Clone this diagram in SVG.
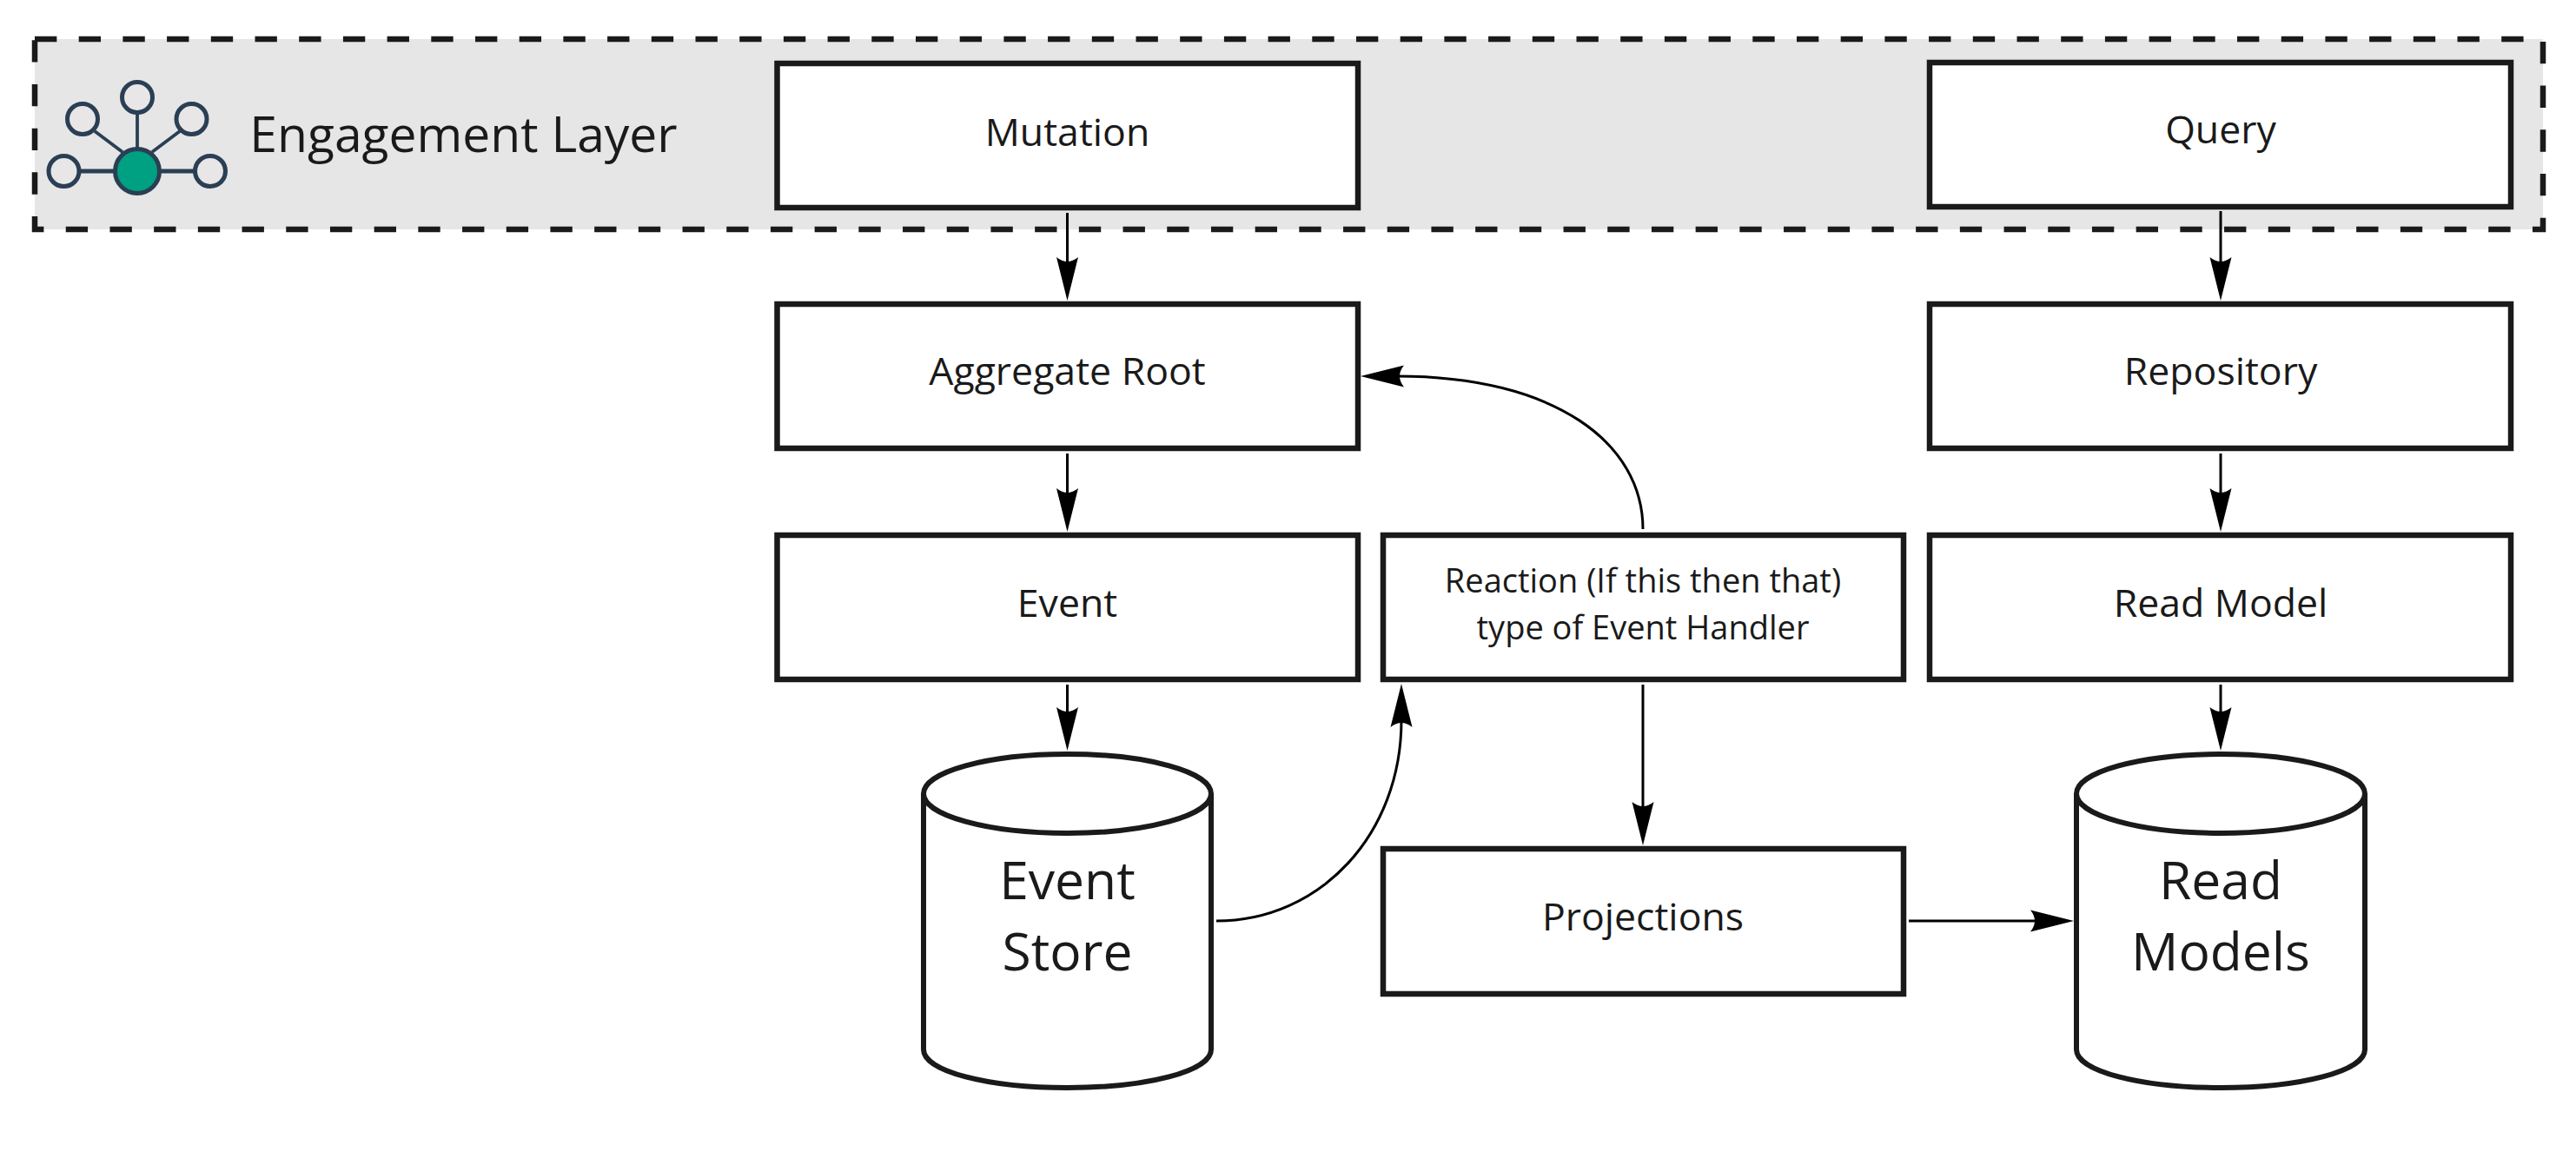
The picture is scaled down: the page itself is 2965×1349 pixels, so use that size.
<svg xmlns="http://www.w3.org/2000/svg" width="2965" height="1349" viewBox="0 0 2965 1349">
<style>
.box{fill:#fff;stroke:#1a1a1a;stroke-width:6.500}
.cyl{fill:#fff;stroke:#1a1a1a;stroke-width:6}
.t{font-family:"Open Sans","Noto Sans",sans-serif;fill:#1a1a1a;text-anchor:middle}
.m{font-size:44.600px}
.s{font-size:38px}
.l{font-size:60.500px}
.c{fill:none;stroke:#000;stroke-width:3;marker-end:url(#arr)}
.ic{stroke:#2a3f54;stroke-width:5;fill:#e8e6e6}
.thin{stroke:#2a3f54;stroke-width:3.800;fill:none}
</style>
<defs>
<marker id="arr" markerUnits="userSpaceOnUse" markerWidth="52" markerHeight="27" refX="8" refY="13" orient="auto">
<path d="M0 .5L50 13L0 25.5Q10 13 0 .5Z" fill="#000"/>
</marker>
</defs>
<rect width="2965" height="1349" fill="#fff"/>
<g id="engagement-layer">
<rect x="40" y="45" width="2887" height="219" fill="#e6e6e6" stroke="#1a1a1a" stroke-width="6.500" stroke-dasharray="25.350 25.350"/>
<g id="icon">
<path class="ic" d="M73 197H242"/>
<path class="thin" d="M158 197V112M109 151L141 175M207 151L175 175"/>
<circle class="ic" cx="73.500" cy="197" r="17.500"/>
<circle class="ic" cx="242" cy="197" r="17.500"/>
<circle class="ic" cx="158" cy="112" r="17.500"/>
<circle class="ic" cx="95" cy="137" r="17.500"/>
<circle class="ic" cx="220.500" cy="137" r="17.500"/>
<ellipse cx="158" cy="197" rx="25.500" ry="25.500" fill="#00a082" stroke="#2a3f54" stroke-width="5"/>
</g>
<text class="t" x="533.500" y="175" style="font-size:57px">Engagement Layer</text>
</g>
<g id="connectors">
<path class="c" d="M1228.500 245V304"/>
<path class="c" d="M2556 243V304"/>
<path class="c" d="M1228.500 522V570"/>
<path class="c" d="M2556 522V570"/>
<path class="c" d="M1228.500 788V822"/>
<path class="c" d="M2556 788V822"/>
<path class="c" d="M1891 788V931"/>
<path class="c" d="M2197 1060H2345"/>
<path class="c" d="M1400 1060C1520 1060 1613 960 1613 829"/>
<path class="c" d="M1891 609C1891 510 1790 433 1608 433"/>
</g>
<g id="mutation"><rect class="box" x="894.500" y="73" width="668.500" height="166"/><text class="t m" x="1228.500" y="168">Mutation</text></g>
<g id="query"><rect class="box" x="2221" y="72" width="669" height="166"/><text class="t m" x="2556" y="165">Query</text></g>
<g id="aggregate-root"><rect class="box" x="894.500" y="350" width="668.500" height="166"/><text class="t m" x="1228.500" y="443">Aggregate Root</text></g>
<g id="repository"><rect class="box" x="2221" y="350" width="669" height="166"/><text class="t m" x="2556" y="443">Repository</text></g>
<g id="event"><rect class="box" x="894.500" y="616" width="668.500" height="166"/><text class="t m" x="1228.500" y="710">Event</text></g>
<g id="read-model"><rect class="box" x="2221" y="616" width="669" height="166"/><text class="t m" x="2556" y="710">Read Model</text></g>
<g id="reaction"><rect class="box" x="1592" y="616" width="599" height="166"/><text class="t s" x="1891" y="682">Reaction (If this then that)</text><text class="t s" x="1891" y="736">type of Event Handler</text></g>
<g id="projections"><rect class="box" x="1592" y="977" width="599" height="167"/><text class="t m" x="1891" y="1071">Projections</text></g>
<g id="event-store">
<path class="cyl" d="M1063 913.500V1208C1063 1233 1137 1252 1228.500 1252S1394 1233 1394 1208V913.500"/>
<ellipse class="cyl" cx="1228.500" cy="913.500" rx="165.500" ry="45.500"/>
<text class="t l" x="1228.500" y="1035">Event</text><text class="t l" x="1228.500" y="1117">Store</text>
</g>
<g id="read-models">
<path class="cyl" d="M2390 913.500V1208C2390 1233 2464.500 1252 2556 1252S2722 1233 2722 1208V913.500"/>
<ellipse class="cyl" cx="2556" cy="913.500" rx="166" ry="45.500"/>
<text class="t l" x="2556" y="1035">Read</text><text class="t l" x="2556" y="1117">Models</text>
</g>
</svg>
